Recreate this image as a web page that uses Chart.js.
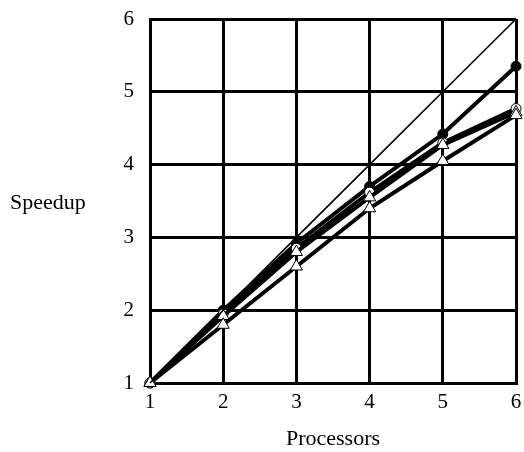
<!DOCTYPE html>
<html>
<head>
<meta charset="utf-8">
<script src="https://cdn.jsdelivr.net/npm/chart.js@4.4.0/dist/chart.umd.min.js"></script>
<style>
  html, body { margin: 0; padding: 0; background: #fff; }
  #wrap { width: 524px; height: 452px; }
</style>
</head>
<body>
<div id="wrap"><canvas id="speedupChart" width="524" height="452"></canvas></div>
<script>
// values
const processors = [1, 2, 3, 4, 5, 6];
const ideal = [1, 2, 3, 4, 5, 6];
const seriesFilled = [1, 2.0, 2.92, 3.70, 4.42, 5.35];
const seriesOpen = [1, 1.95, 2.85, 3.62, 4.30, 4.77];
const seriesTriA = [1, 1.92, 2.80, 3.55, 4.27, 4.72];
const seriesTriB = [1, 1.80, 2.60, 3.40, 4.05, 4.68];
const tickValues = [1, 2, 3, 4, 5, 6];

const serif = "'Liberation Serif', 'DejaVu Serif', serif";

function pts(vals) {
    return processors.map((p, i) => ({x: p, y: vals[i]}));
}

function lineSet(vals, style, radius, fill, width) {
    return {
        data: pts(vals),
        borderColor: "#000",
        borderWidth: width,
        pointStyle: style,
        pointRadius: radius,
        pointBackgroundColor: fill,
        pointBorderColor: "#000",
        pointBorderWidth: 1,
        tension: 0,
        clip: false
    };
}

// y title is horizontal in the picture, so draw it by hand
const sideTitle = {
    id: "sideTitle",
    afterDraw(chart) {
        const ctx = chart.ctx;
        const area = chart.chartArea;
        ctx.save();
        ctx.font = "22px " + serif;
        ctx.fillStyle = "#000";
        ctx.textAlign = "left";
        ctx.textBaseline = "middle";
        ctx.fillText("Speedup", 10, (area.top + area.bottom) / 2 + 2);
        ctx.restore();
    }
};

const canvasElement = document.getElementById("speedupChart");

new Chart(canvasElement, {
    type: "line",
    data: {
        datasets: [
            lineSet(ideal, false, 0, "#000", 1.6),
            lineSet(seriesTriB, "triangle", 7, "#fff", 4),
            lineSet(seriesTriA, "triangle", 7, "#fff", 4),
            lineSet(seriesOpen, "circle", 5, "#fff", 4),
            lineSet(seriesFilled, "circle", 5, "#000", 4)
        ]
    },
    options: {
        responsive: false,
        animation: false,
        layout: {padding: {top: 19, right: 7, left: 0, bottom: 0}},
        plugins: {legend: {display: false}, tooltip: {enabled: false}},
        scales: {
            x: {
                type: "linear",
                min: 1,
                max: 6,
                afterBuildTicks: (axis) => { axis.ticks = tickValues.map(v => ({value: v})); },
                afterFit: (axis) => {
                    axis.height = 69;
                    axis.paddingLeft = 0;
                    axis.paddingRight = 0;
                },
                grid: {color: "#000", lineWidth: 3, drawTicks: false},
                border: {color: "#000", width: 3},
                ticks: {color: "#000", font: {family: serif, size: 21}, padding: 7},
                title: {display: true, text: "Processors", color: "#000", font: {family: serif, size: 22}, padding: {top: 0, bottom: 0}}
            },
            y: {
                min: 1,
                max: 6,
                afterBuildTicks: (axis) => { axis.ticks = tickValues.map(v => ({value: v})); },
                afterFit: (axis) => {
                    axis.width = 150;
                    axis.paddingTop = 0;
                    axis.paddingBottom = 0;
                },
                grid: {color: "#000", lineWidth: 3, drawTicks: false},
                border: {color: "#000", width: 3},
                ticks: {color: "#000", font: {family: serif, size: 21}, padding: 16}
            }
        }
    },
    plugins: [sideTitle]
});
</script>
</body>
</html>
